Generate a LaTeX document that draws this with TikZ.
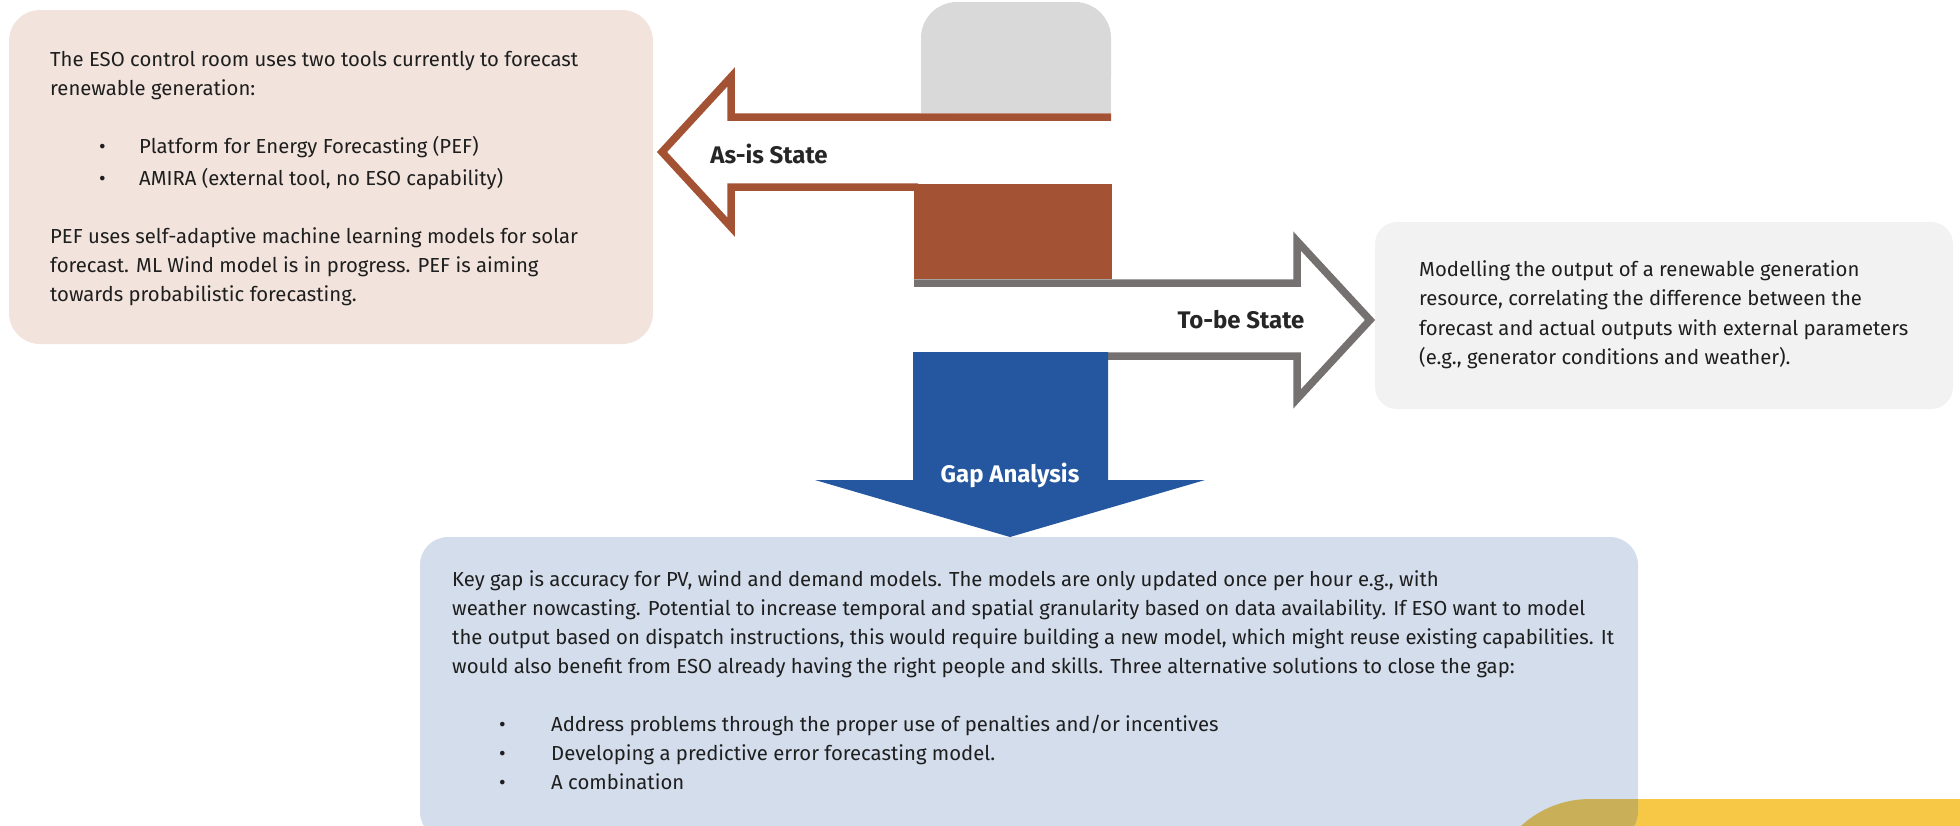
\documentclass[tikz,border=0pt]{standalone}
\usepackage{fontspec}
\setmainfont{Fira Sans}

\definecolor{peach}{RGB}{242,228,221}
\definecolor{rust}{RGB}{163,82,52}
\definecolor{topgray}{RGB}{217,217,217}
\definecolor{arrowgray}{RGB}{118,113,113}
\definecolor{gapblue}{RGB}{37,87,160}
\definecolor{palegray}{RGB}{242,242,242}
\definecolor{paleblue}{RGB}{211,221,236}
\definecolor{sun}{RGB}{246,200,70}
\definecolor{sunshade}{RGB}{201,176,88}
\definecolor{ink}{RGB}{30,30,30}
\definecolor{labelink}{RGB}{38,38,38}

\begin{document}
\begin{tikzpicture}[x=1pt,y=-1pt,
  body/.style={anchor=base west, inner sep=0pt, text=ink,
    font=\fontsize{20.3}{29}\selectfont},
  lbl/.style={anchor=base, inner sep=0pt,
    font=\fontsize{24}{28}\selectfont\bfseries},
  outline/.style={line width=7.5pt, miter limit=10, line join=miter}]

\useasboundingbox (0,0) rectangle (1960,825);

% yellow corner band, with its tint where the blue panel lies over it
\fill[sun, rounded corners=102pt] (1488,1000) -- (1488,799) -- (2100,799) -- (2100,1000);
\fill[paleblue, rounded corners=28pt] (420,537) rectangle (1638,840);
\begin{scope}
  \clip[rounded corners=28pt] (420,537) rectangle (1638,840);
  \fill[sunshade, rounded corners=102pt] (1488,1000) -- (1488,799) -- (2100,799) -- (2100,1000);
\end{scope}

% side panels
\fill[peach, rounded corners=31pt] (9,10) rectangle (653,344);
\fill[palegray, rounded corners=22pt] (1375,222) rectangle (1953,409);

% grey tab above the as-is arrow
\fill[topgray, rounded corners=36pt] (921,2) rectangle (1111,113);
\fill[topgray] (921,60) rectangle (1111,113);

% as-is arrow (outline pointing left)
\draw[outline, rust] (1111,117) -- (731,117) -- (731,77) -- (662,152)
  -- (731,227) -- (731,187) -- (918,187);

% to-be arrow (outline pointing right)
\draw[outline, arrowgray] (914,283) -- (1297,283) -- (1297,241) -- (1370,320)
  -- (1297,399) -- (1297,356) -- (1108,356);

% solid rust block
\fill[rust] (914,184) rectangle (1112,279);

% gap-analysis arrow (solid, pointing down)
\fill[gapblue] (913,352) -- (1108,352) -- (1108,480) -- (1205,480)
  -- (1010,537) -- (815,480) -- (913,480) -- cycle;

% labels
\node[lbl, text=labelink] (asis) at (769,163) {As-is State};
\node[lbl, text=labelink] (tobe) at (1241,328) {To-be State};
\node[lbl, text=white] (gap) at (1010,482) {Gap Analysis};

% panel texts
\node[body] (astext) at (50,66) {\parbox[t]{640pt}{\raggedright
The ESO control room uses two tools currently to forecast\\
renewable generation:\\[29pt]
\hspace*{49pt}\makebox[40pt][l]{\textbullet}Platform for Energy Forecasting (PEF)\\[3pt]
\hspace*{49pt}\makebox[40pt][l]{\textbullet}AMIRA (external tool, no ESO capability)\\[29pt]
PEF uses self-adaptive machine learning models for solar\\
forecast. ML Wind model is in progress. PEF is aiming\\
towards probabilistic forecasting.}};

\node[body] (tbtext) at (1419,276) {\parbox[t]{560pt}{\raggedright\baselineskip=29.5pt
Modelling the output of a renewable generation\\
resource, correlating the difference between the\\
forecast and actual outputs with external parameters\\
(e.g., generator conditions and weather).}};

\node[body] (gaptext) at (452,586) {\parbox[t]{1260pt}{\raggedright
Key gap is accuracy for PV, wind and demand models. The models are only updated once per hour e.g., with\\
weather nowcasting. Potential to increase temporal and spatial granularity based on data availability. If ESO want to model\\
the output based on dispatch instructions, this would require building a new model, which might reuse existing capabilities. It\\
would also benefit from ESO already having the right people and skills. Three alternative solutions to close the gap:\\[29pt]
\hspace*{47pt}\makebox[52pt][l]{\textbullet}Address problems through the proper use of penalties and/or incentives\\
\hspace*{47pt}\makebox[52pt][l]{\textbullet}Developing a predictive error forecasting model.\\
\hspace*{47pt}\makebox[52pt][l]{\textbullet}A combination}};

\end{tikzpicture}
\end{document}
